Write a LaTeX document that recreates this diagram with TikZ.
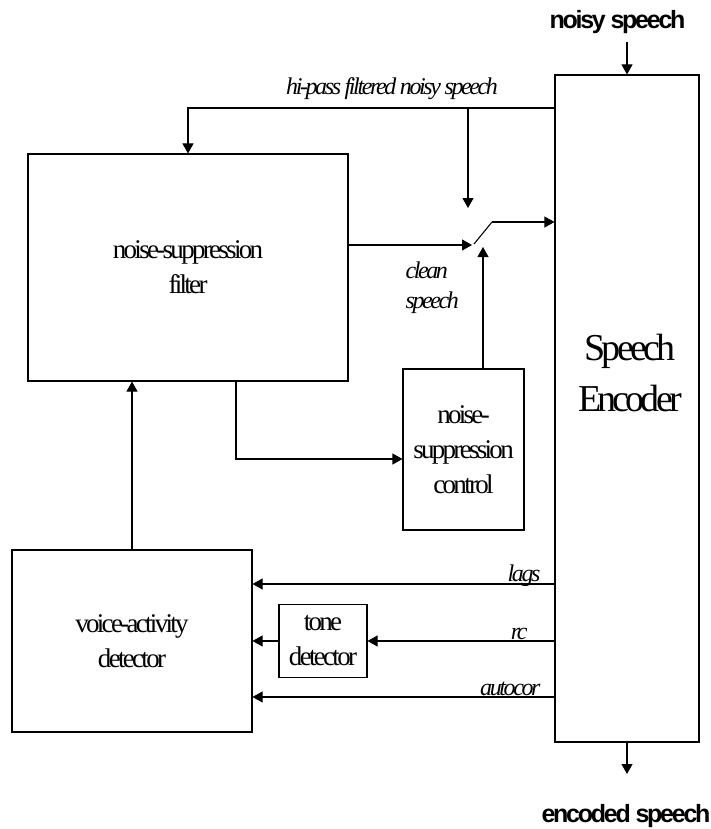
\documentclass[tikz,border=0pt]{standalone}
\usepackage{fontspec}
\setmainfont{Liberation Serif}[LetterSpace=-10]
\newfontfamily\hdfont{Liberation Sans}[LetterSpace=-9]
\usetikzlibrary{arrows.meta}
\begin{document}
\begin{tikzpicture}[x=1pt,y=-1pt,line width=1.1pt,
  box/.style={draw, inner sep=0pt, align=center, font=\fontsize{27}{35}\selectfont},
  arr/.style={-{Triangle[length=10pt,width=11pt]}},
  lbl/.style={font=\itshape\fontsize{24}{30}\selectfont, inner sep=0pt},
  hd/.style={font=\hdfont\bfseries\fontsize{25}{30}\selectfont, inner sep=0pt}]
\useasboundingbox (0,0) rectangle (711,829);
% boxes
\node[box, minimum width=144pt, minimum height=667pt] (enc) at (627,408.5) {};
\node[font=\fontsize{38}{51}\selectfont, align=center, inner sep=0pt] (enct) at (630,373) {Speech\\Encoder};
\node[box, minimum width=320pt, minimum height=227pt] (filt) at (188,267.5) {noise-suppression\\filter};
\node[box, minimum width=121pt, minimum height=161pt] (ctrl) at (463.5,449.5) {noise-\\suppression\\control};
\node[box, minimum width=240pt, minimum height=182pt] (vad) at (132,641) {voice-activity\\detector};
\node[box, minimum width=88pt, minimum height=73pt] (tone) at (323,641) {tone\\detector};
% labels
\node[hd, anchor=base] (ns) at (617.5,29) {noisy speech};
\node[hd, anchor=base] (es) at (626,822) {encoded speech};
\node[lbl, anchor=base] (hpl) at (392,95) {hi-pass filtered noisy speech};
\node[lbl, anchor=base east] (lgl) at (541,581) {lags};
\node[lbl, anchor=base east] (rcl) at (528,639) {rc};
\node[lbl, anchor=base east] (acl) at (541,695) {autocor};
\node[lbl, align=left, anchor=north west] (cs) at (405,261) {clean\\speech};
% coordinates
\coordinate (nsin) at (627,42);
\coordinate (hp) at (555,108);
\coordinate (br) at (468,108);
\coordinate (brt) at (468,208);
\coordinate (swin) at (472,245);
\coordinate (s1) at (474,244);
\coordinate (s2) at (492,222);
\coordinate (swup) at (483,247);
\coordinate (fc) at (236,459);
\coordinate (lgy) at (555,584);
\coordinate (acy) at (555,697);
\coordinate (esout) at (627,774);
% connectors
\draw[arr] (nsin) -- (enc.north);
\draw[arr] (enc.west |- hp) -| (filt.north);
\draw[arr] (br) -- (brt);
\draw[arr] (filt.east |- swin) -- (swin);
\draw (s1) -- (s2);
\draw[arr] (s2) -- (enc.west |- s2);
\draw[arr] (ctrl.north -| swup) -- (swup);
\draw[arr] (filt.south -| fc) |- (ctrl.west |- fc);
\draw[arr] (vad.north) -- (filt.south -| vad.north);
\draw[arr] (enc.west |- lgy) -- (vad.east |- lgy);
\draw[arr] (enc.west |- tone.east) -- (tone.east);
\draw[arr] (tone.west) -- (vad.east |- tone.west);
\draw[arr] (enc.west |- acy) -- (vad.east |- acy);
\draw[arr] (enc.south) -- (esout);
\end{tikzpicture}
\end{document}
